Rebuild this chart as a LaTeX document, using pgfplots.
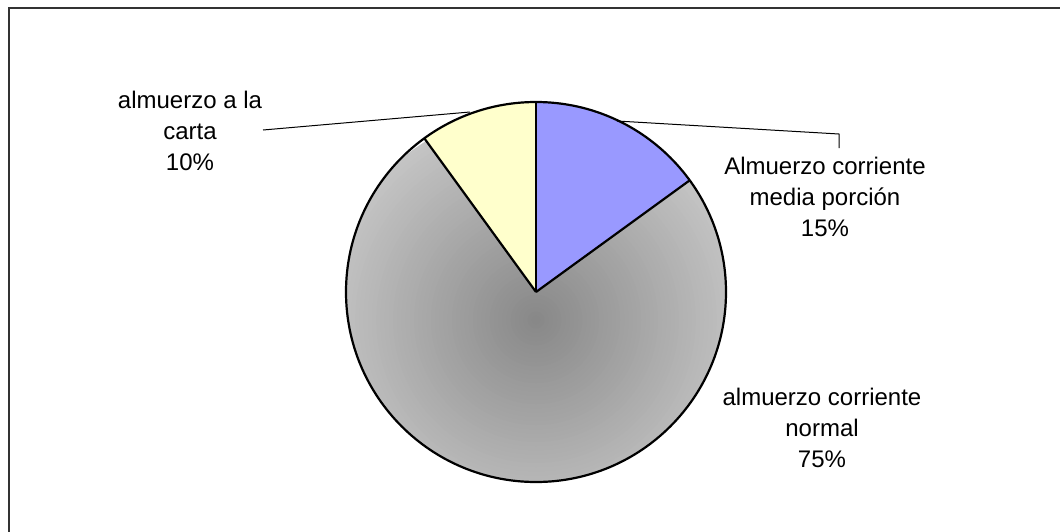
\documentclass[border=0pt]{standalone}
\usepackage{pgfplots}
\pgfplotsset{compat=1.18}
\usepackage{pgfplotstable}
\usepackage{fontspec}
\setmainfont{Liberation Sans}

\definecolor{pieblue}{HTML}{9999FF}
\definecolor{pieyellow}{HTML}{FFFFCC}
\definecolor{framegray}{HTML}{333333}
\definecolor{glowcore}{HTML}{878787}
\definecolor{glowrim}{HTML}{C4C4C4}

% share of each lunch type, in per cent
\pgfplotstableread{
slice value
media  15
normal 75
carta  10
}\lunch

\begin{document}
\begin{tikzpicture}
\pgfplotstablegetelem{0}{value}\of\lunch \let\vA\pgfplotsretval
\pgfplotstablegetelem{1}{value}\of\lunch \let\vB\pgfplotsretval
\pgfplotstablegetelem{2}{value}\of\lunch \let\vC\pgfplotsretval
% slices run clockwise from twelve o'clock
\pgfmathsetmacro\aA{90}
\pgfmathsetmacro\aB{\aA-3.6*\vA}
\pgfmathsetmacro\aC{\aB-3.6*\vB}
\pgfmathsetmacro\aD{\aC-3.6*\vC}
\def\R{95pt}
\begin{axis}[
  width=530pt, height=265.5pt, scale only axis,
  xmin=0, xmax=1060, ymin=0, ymax=531, y dir=reverse,
  hide axis, clip=true,
]
% outer frame
\draw[line width=1pt, framegray] (axis cs:9,545) -- (axis cs:9,8) -- (axis cs:1075,8);

% slices
\fill[pieblue] (axis cs:536,292) -- ++(\aA:\R) arc[start angle=\aA, end angle=\aB, radius=\R] -- cycle;
\begin{scope}
  \clip (axis cs:536,292) -- ++(\aB:\R) arc[start angle=\aB, end angle=\aC, radius=\R] -- cycle;
  % radial glow: concentric discs, lighter outwards
  \pgfplotsinvokeforeach{100,98,...,2}{
    \fill[glowrim!#1!glowcore] (axis cs:536,320) circle[radius=#1*1.05pt];
  }
\end{scope}
\fill[pieyellow] (axis cs:536,292) -- ++(\aC:\R) arc[start angle=\aC, end angle=\aD, radius=\R] -- cycle;

% outlines
\draw[line width=1.1pt, line join=round] (axis cs:536,292) -- ++(\aA:\R);
\draw[line width=1.1pt, line join=round] (axis cs:536,292) -- ++(\aB:\R);
\draw[line width=1.1pt, line join=round] (axis cs:536,292) -- ++(\aC:\R);
\draw[line width=1.1pt] (axis cs:536,292) circle[radius=\R];

% leader lines
\draw[line width=0.5pt] (axis cs:617,121) -- (axis cs:839,134) -- (axis cs:839,148);
\draw[line width=0.5pt] (axis cs:263,130) -- (axis cs:470,112);

% labels
\tikzset{lbl/.style={align=center, font=\fontsize{12}{15.5}\selectfont, inner sep=0pt}}
\node[lbl] at (axis cs:825,197) {Almuerzo corriente\\media porción\\\vA\%};
\node[lbl] at (axis cs:190,131) {almuerzo a la\\carta\\\vC\%};
\node[lbl] at (axis cs:822,428) {almuerzo corriente\\normal\\\vB\%};
\end{axis}
\pgfresetboundingbox
\useasboundingbox (current axis.south west) rectangle (current axis.north east);
\end{tikzpicture}
\end{document}
